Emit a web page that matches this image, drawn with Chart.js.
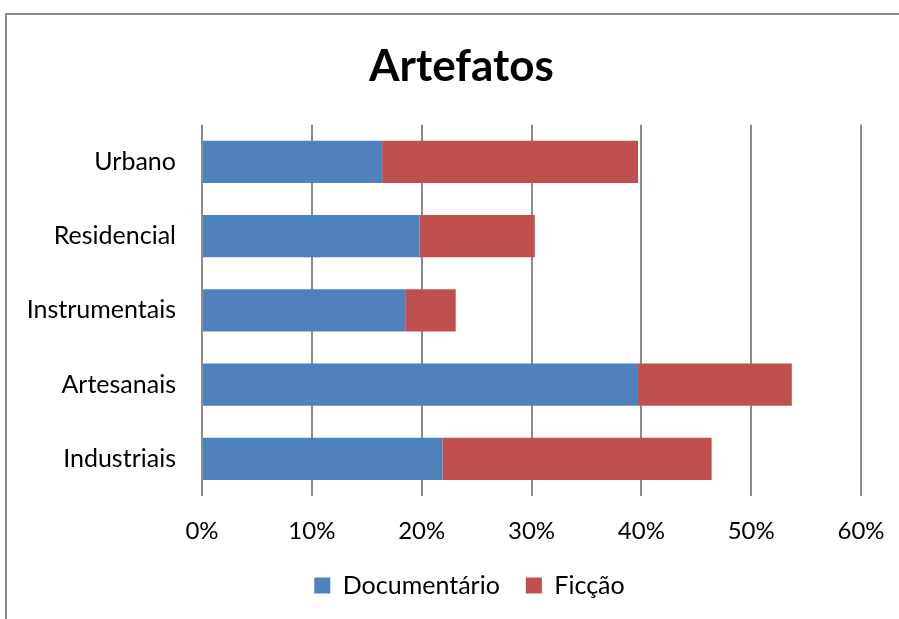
<!DOCTYPE html>
<html>
<head>
<meta charset="utf-8">
<script src="https://cdn.jsdelivr.net/npm/chart.js@4"></script>
<style>
  html, body { margin: 0; padding: 0; background: #fff; }
  #wrap { position: relative; width: 899px; height: 619px; overflow: hidden; }
  #frame { position: absolute; left: 5px; top: 13px; width: 920px; height: 640px; border: 2px solid #8c8c8c; box-sizing: border-box; pointer-events: none; }
  canvas { position: absolute; left: 0; top: 0; }
</style>
</head>
<body>
<div id="wrap">
  <canvas id="c" width="899" height="619"></canvas>
  <div id="frame"></div>
</div>
<script>
const title = 'Artefatos';
const categories = ['Urbano', 'Residencial', 'Instrumentais', 'Artesanais', 'Industriais'];
const seriesNames = ['Documentário', 'Ficção'];
const documentario = [16.4, 19.8, 18.5, 39.7, 21.9];
const ficcao = [23.3, 10.5, 4.6, 14.0, 24.5];
const xTicks = [0, 10, 20, 30, 40, 50, 60];

const FONT = 'Lato';
Chart.defaults.font.family = FONT;
Chart.defaults.color = '#000';

// centre title and legend on the frame rather than the whole canvas, nudge legend up
const shiftBlocks = {
  id: 'shiftBlocks',
  afterLayout(chart) {
    const t = chart.titleBlock;
    if (t) { t.left = 24; t.right = 899; t.width = 875; }
    const l = chart.legend;
    if (l) { l.left = 40; l.right = 899; l.width = 859; l.top -= 11; l.bottom -= 11; }
  }
};

new Chart(document.getElementById('c'), {
  type: 'bar',
  data: {
    labels: categories,
    datasets: [
      { label: seriesNames[0], data: documentario, backgroundColor: '#4F81BD', borderColor: '#4F81BD', borderWidth: 0 },
      { label: seriesNames[1], data: ficcao, backgroundColor: '#C0504D', borderColor: '#C0504D', borderWidth: 0 }
    ]
  },
  plugins: [shiftBlocks],
  options: {
    indexAxis: 'y',
    responsive: false,
    animation: false,
    devicePixelRatio: 1,
    layout: { padding: { left: 0, right: 0, top: 0, bottom: 0 } },
    datasets: { bar: { categoryPercentage: 1.0, barPercentage: 0.57 } },
    scales: {
      x: {
        stacked: true,
        min: 0, max: 60,
        afterBuildTicks: (s) => { s.ticks = xTicks.map(v => ({ value: v })); },
        ticks: { callback: v => v + '%', font: { size: 24 }, color: '#000', padding: 21 },
        grid: { color: '#8c8c8c', lineWidth: 2, drawTicks: false },
        border: { display: false },
        afterFit: (s) => { s.height = 62; s.paddingRight = 38; s.paddingLeft = 0; }
      },
      y: {
        stacked: true,
        ticks: { font: { size: 25 }, color: '#000', padding: 18 },
        grid: { display: false },
        border: { display: false },
        afterFit: (s) => { s.width = 202; }
      }
    },
    plugins: {
      title: { display: true, text: title, font: { size: 44, weight: 'bold' }, color: '#000', padding: { top: 40, bottom: 32 } },
      legend: {
        position: 'bottom',
        maxHeight: 76,
        labels: { boxWidth: 16, boxHeight: 16, font: { size: 25 }, color: '#000', padding: 26 }
      },
      tooltip: { enabled: false }
    }
  }
});
</script>
</body>
</html>
